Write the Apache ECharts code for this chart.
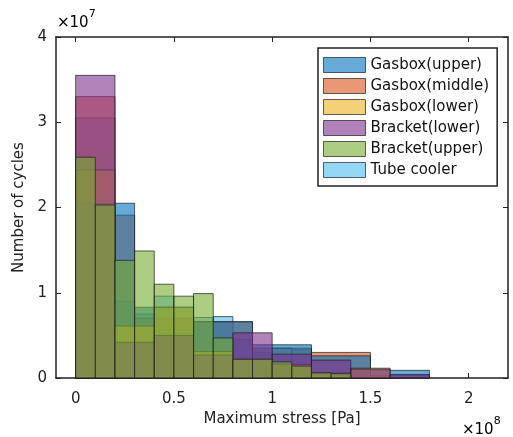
<!DOCTYPE html>
<html>
<head>
<meta charset="utf-8">
<script src="https://cdn.jsdelivr.net/npm/echarts@6/dist/echarts.min.js"></script>
<style>
  html, body { margin: 0; padding: 0; background: #fff; }
  #chart { width: 513px; height: 437px; }
</style>
</head>
<body>
<div id="chart"></div>
<script>
// x: maximum stress in units of 1e8 Pa, y: number of cycles in units of 1e7
// each series: bin edges + counts per bin
const gasboxUpperEdges = [0, 0.3, 0.6, 0.9, 1.2, 1.5, 1.8];
const gasboxUpperCounts = [2.05, 0.83, 0.66, 0.39, 0.26, 0.09];

const gasboxMiddleEdges = [0, 0.2, 0.3, 0.6, 0.9, 1.2, 1.5, 1.8];
const gasboxMiddleCounts = [3.30, 1.91, 0.70, 0.66, 0.35, 0.30, 0.03];

const gasboxLowerEdges = [0, 0.2, 0.4, 0.6, 0.8, 1.0, 1.2, 1.4, 1.6];
const gasboxLowerCounts = [2.44, 0.61, 0.83, 0.31, 0.22, 0.16, 0.06, 0.115];

const bracketLowerEdges = [0, 0.2, 0.4, 0.6, 0.8, 1.0, 1.2, 1.4, 1.6, 1.8];
const bracketLowerCounts = [3.55, 0.42, 0.50, 0.27, 0.53, 0.28, 0.21, 0.105, 0.04];

const bracketUpperEdges = [0, 0.1, 0.2, 0.3, 0.4, 0.5, 0.6, 0.7, 0.8, 0.9, 1.0, 1.1, 1.2, 1.3, 1.4];
const bracketUpperCounts = [2.59, 2.03, 1.38, 1.49, 1.10, 0.96, 0.99, 0.47, 0.22, 0.22, 0.19, 0.14, 0.06, 0.05];

const tubeCoolerEdges = [0, 0.2, 0.3, 0.4, 0.5, 0.6, 0.7, 0.8, 0.9, 1.0, 1.1, 1.2];
const tubeCoolerCounts = [3.05, 0.90, 0.75, 0.96, 0.66, 0.71, 0.72, 0.45, 0.30, 0.35, 0.33];

const legendNames = ['Gasbox(upper)', 'Gasbox(middle)', 'Gasbox(lower)', 'Bracket(lower)', 'Bracket(upper)', 'Tube cooler'];
const xTicks = [0, 0.5, 1, 1.5, 2];

const colors = {
  'Gasbox(upper)': 'rgba(0,114,189,0.6)',
  'Gasbox(middle)': 'rgba(217,83,25,0.6)',
  'Gasbox(lower)': 'rgba(237,177,32,0.6)',
  'Bracket(lower)': 'rgba(126,47,142,0.6)',
  'Bracket(upper)': 'rgba(119,172,48,0.6)',
  'Tube cooler': 'rgba(77,190,238,0.6)',
};
const edgeColor = 'rgba(30,30,30,0.7)';
const font = 'DejaVu Sans';

function bins(edges, counts) {
  return counts.map((c, i) => [edges[i], edges[i + 1], c]);
}

function histSeries(name, edges, counts) {
  return {
    name,
    type: 'custom',
    itemStyle: { color: colors[name] },
    encode: { x: [0, 1], y: 2 },
    data: bins(edges, counts),
    renderItem(params, api) {
      const p0 = api.coord([api.value(0), api.value(2)]);
      const p1 = api.coord([api.value(1), 0]);
      return {
        type: 'rect',
        shape: { x: p0[0], y: p0[1], width: p1[0] - p0[0], height: p1[1] - p0[1] },
        style: { fill: colors[name], stroke: edgeColor, lineWidth: 1 },
      };
    },
  };
}

const chart = echarts.init(document.getElementById('chart'));

const axisLine = { show: true, onZero: false, lineStyle: { color: '#222', width: 1.5 } };
const tick = { show: true, inside: true, length: 5, lineStyle: { color: '#222', width: 1 } };

const option = {
  animation: false,
  grid: { left: 56, right: 5, top: 37, bottom: 59, show: false },
  legend: {
    orient: 'vertical',
    left: 318,
    top: 48,
    padding: [9, 8, 8, 5],
    itemWidth: 42,
    itemHeight: 15,
    itemGap: 5,
    borderColor: '#222',
    borderWidth: 1.5,
    backgroundColor: '#fff',
    textStyle: { fontFamily: font, fontSize: 15, color: '#111' },
    data: legendNames.map((n) => ({
      name: n,
      icon: 'rect',
      itemStyle: { color: colors[n], borderColor: edgeColor, borderWidth: 1 },
    })),
  },
  xAxis: [
    {
      type: 'value',
      min: -0.1,
      max: 2.2,
      name: 'Maximum stress [Pa]',
      nameLocation: 'middle',
      nameGap: 24,
      nameTextStyle: { fontFamily: font, fontSize: 15, color: '#222' },
      axisLine,
      axisTick: { ...tick, customValues: xTicks },
      axisLabel: { customValues: xTicks, fontFamily: font, fontSize: 15, color: '#222', margin: 14 },
      splitLine: { show: false },
    },
    {
      type: 'value',
      position: 'top',
      min: -0.1,
      max: 2.2,
      axisLine,
      axisTick: { ...tick, customValues: xTicks },
      axisLabel: { show: false },
      splitLine: { show: false },
    },
  ],
  yAxis: [
    {
      type: 'value',
      min: 0,
      max: 4,
      interval: 1,
      name: 'Number of cycles',
      nameLocation: 'middle',
      nameGap: 19,
      nameTextStyle: { fontFamily: font, fontSize: 15, color: '#222' },
      axisLine,
      axisTick: tick,
      axisLabel: { fontFamily: font, fontSize: 15, color: '#222', margin: 9 },
      splitLine: { show: false },
    },
    {
      type: 'value',
      position: 'right',
      min: 0,
      max: 4,
      interval: 1,
      axisLine,
      axisTick: tick,
      axisLabel: { show: false },
      splitLine: { show: false },
    },
  ],
  graphic: [
    {
      type: 'text',
      left: 57,
      top: 9,
      style: {
        text: '{a|×10}{b|7}',
        rich: {
          a: { fontFamily: font, fontSize: 15, color: '#222', lineHeight: 22, verticalAlign: 'bottom' },
          b: { fontFamily: font, fontSize: 11, color: '#222', verticalAlign: 'top' },
        },
      },
    },
    {
      type: 'text',
      left: 462,
      top: 416,
      style: {
        text: '{a|×10}{b|8}',
        rich: {
          a: { fontFamily: font, fontSize: 15, color: '#222', lineHeight: 22, verticalAlign: 'bottom' },
          b: { fontFamily: font, fontSize: 11, color: '#222', verticalAlign: 'top' },
        },
      },
    },
  ],
  // drawing order (later = on top); legend keeps the original order
  series: [
    histSeries('Tube cooler', tubeCoolerEdges, tubeCoolerCounts),
    histSeries('Gasbox(middle)', gasboxMiddleEdges, gasboxMiddleCounts),
    histSeries('Gasbox(upper)', gasboxUpperEdges, gasboxUpperCounts),
    histSeries('Gasbox(lower)', gasboxLowerEdges, gasboxLowerCounts),
    histSeries('Bracket(lower)', bracketLowerEdges, bracketLowerCounts),
    histSeries('Bracket(upper)', bracketUpperEdges, bracketUpperCounts),
  ],
};

chart.setOption(option);
</script>
</body>
</html>
